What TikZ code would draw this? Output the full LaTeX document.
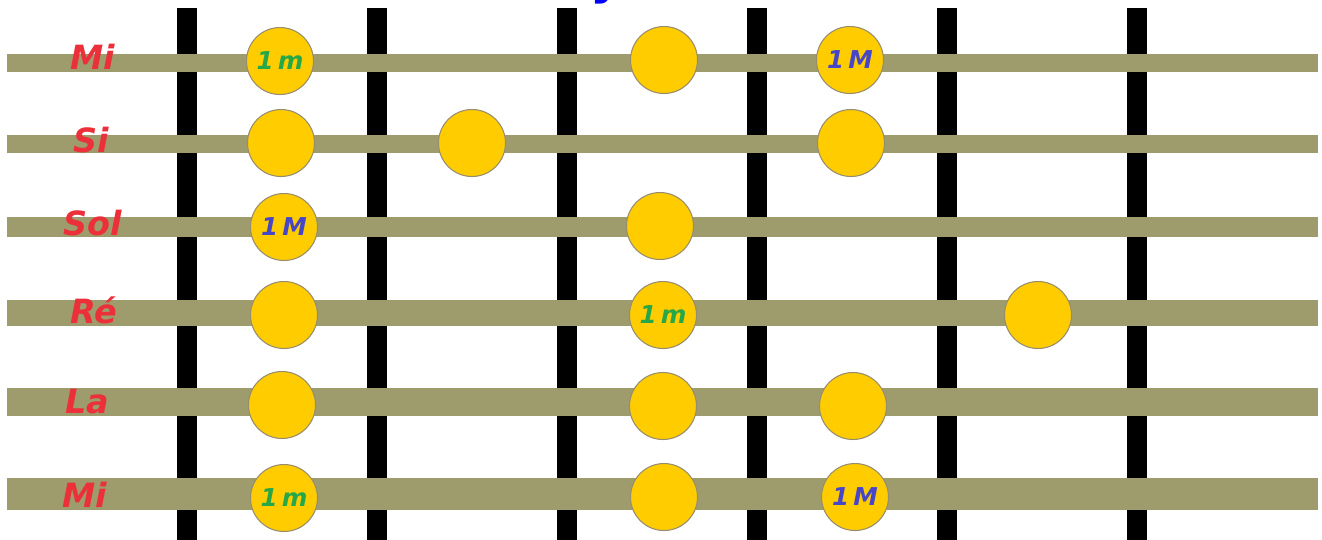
\documentclass[tikz,border=0pt]{standalone}
\usepackage{fontspec}
\setmainfont{DejaVu Sans}
\usetikzlibrary{positioning}
\definecolor{str_olive}{RGB}{158, 155, 108}
\definecolor{dot_yellow}{RGB}{255, 204, 0}
\definecolor{dot_rim}{RGB}{150, 140, 110}
\definecolor{lbl_red}{RGB}{236, 48, 58}
\definecolor{mn_green}{RGB}{38, 168, 72}
\definecolor{mj_blue}{RGB}{70, 70, 200}
\tikzstyle{dot}=[circle,fill=dot_yellow,draw=dot_rim,line width=0.6pt,
  inner sep=0pt,minimum size=1.34cm,
  font=\fontsize{14}{15}\selectfont\bfseries\itshape]
\tikzstyle{dotm}=[dot,text=mn_green]
\tikzstyle{dotM}=[dot,text=mj_blue]
\tikzstyle{fret}=[draw=black,line width=11.3pt]
\tikzstyle{string}=[draw=str_olive]
\tikzstyle{sname}=[text=lbl_red,anchor=base,inner sep=0pt,
  font=\fontsize{19}{20}\selectfont\bfseries\itshape]

\begin{document}
\begin{tikzpicture}[x=0.02cm,y=-0.02cm]
        \useasboundingbox (0,0) rectangle (1322,539);
        \clip (0,0) rectangle (1322,539);
        % frets
        \coordinate (f1t) at (187,8);   \coordinate (f1b) at (187,545);
        \coordinate (f2t) at (377,8);   \coordinate (f2b) at (377,545);
        \coordinate (f3t) at (567,8);   \coordinate (f3b) at (567,545);
        \coordinate (f4t) at (757,8);   \coordinate (f4b) at (757,545);
        \coordinate (f5t) at (947,8);   \coordinate (f5b) at (947,545);
        \coordinate (f6t) at (1137,8);  \coordinate (f6b) at (1137,545);
        \draw [style=fret] (f1t) to (f1b);
        \draw [style=fret] (f2t) to (f2b);
        \draw [style=fret] (f3t) to (f3b);
        \draw [style=fret] (f4t) to (f4b);
        \draw [style=fret] (f5t) to (f5b);
        \draw [style=fret] (f6t) to (f6b);
        % strings
        \coordinate (s1l) at (7,63);   \coordinate (s1r) at (1318,63);
        \coordinate (s2l) at (7,144);  \coordinate (s2r) at (1318,144);
        \coordinate (s3l) at (7,227);  \coordinate (s3r) at (1318,227);
        \coordinate (s4l) at (7,313);  \coordinate (s4r) at (1318,313);
        \coordinate (s5l) at (7,402);  \coordinate (s5r) at (1318,402);
        \coordinate (s6l) at (7,494);  \coordinate (s6r) at (1318,494);
        \draw [style=string,line width=10.2pt] (s1l) to (s1r);
        \draw [style=string,line width=10.2pt] (s2l) to (s2r);
        \draw [style=string,line width=11.9pt] (s3l) to (s3r);
        \draw [style=string,line width=15.3pt] (s4l) to (s4r);
        \draw [style=string,line width=15.9pt] (s5l) to (s5r);
        \draw [style=string,line width=18.1pt] (s6l) to (s6r);
        % string names
        \node [style=sname] (mia) at (93,69) {Mi};
        \node [style=sname] (si) at (91,152) {Si};
        \node [style=sname] (sol) at (93,235) {Sol};
        \node [style=sname] (re) at (94,323) {Ré};
        \node [style=sname] (la) at (87,413) {La};
        \node [style=sname] (mib) at (85,507) {Mi};
        % notes
        \node [style=dotm] (a1) at (280,61) {1\,m};
        \node [style=dot] (a2) at (664,60) {};
        \node [style=dotM] (a3) at (850,60) {1\,M};
        \node [style=dot] (b1) at (281,143) {};
        \node [style=dot] (b2) at (472,143) {};
        \node [style=dot] (b3) at (851,143) {};
        \node [style=dotM] (c1) at (284,227) {1\,M};
        \node [style=dot] (c2) at (660,226) {};
        \node [style=dot] (d1) at (284,315) {};
        \node [style=dotm] (d2) at (663,315) {1\,m};
        \node [style=dot] (d3) at (1038,315) {};
        \node [style=dot] (e1) at (282,405) {};
        \node [style=dot] (e2) at (663,406) {};
        \node [style=dot] (e3) at (853,406) {};
        \node [style=dotm] (g1) at (284,498) {1\,m};
        \node [style=dot] (g2) at (664,497) {};
        \node [style=dotM] (g3) at (855,497) {1\,M};
        % title, cut off at the top
        \node [text=blue,anchor=base west,inner sep=0pt,
          font=\fontsize{28}{30}\selectfont\bfseries] (title) at (590,-7) {y};
    \end{tikzpicture}
\end{document}
